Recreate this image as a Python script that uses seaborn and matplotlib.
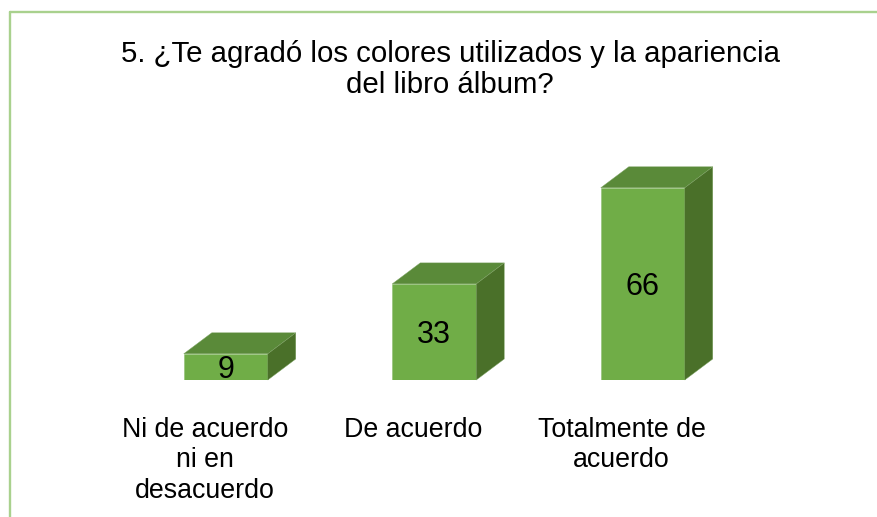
#!/usr/bin/env python3
"""3D-looking bar chart for survey question 5."""
import matplotlib
matplotlib.use("Agg")
import matplotlib.pyplot as plt
from matplotlib.lines import Line2D
from matplotlib.patches import Polygon
import pandas as pd
import seaborn as sns

# -----------------------------
#  Data
# -----------------------------
CATEGORIES = ["Ni de acuerdo\nni en\ndesacuerdo", "De acuerdo", "Totalmente de\nacuerdo"]
VALUES = [9, 33, 66]
TITLE = "5. ¿Te agradó los colores utilizados y la apariencia\ndel libro álbum?"

FRONT = "#70AD47"
TOP = "#5A8A39"
SIDE = "#4A7029"
FRAME = "#A9D18E"

sns.set_theme(style="white")
plt.rcParams["font.family"] = ["Liberation Sans", "DejaVu Sans"]

fig = plt.figure(figsize=(8.77, 5.17), dpi=100)
# axes box in pixels: x 122-747, baseline at y=380
ax = fig.add_axes([121.5 / 877, (517 - 380) / 517, 625.5 / 877, 233 / 517])

df = pd.DataFrame({"cat": CATEGORIES, "val": VALUES})
sns.barplot(data=df, x="cat", y="val", color=FRONT, saturation=1, width=0.403, ax=ax)
ax.set_xlim(-0.5, 2.5)
ax.set_ylim(0, 80)
ax.axis("off")

# depth offsets, converted from pixels to data units
dx = 28 / (625.5 / 3)
dy = 21 / (233 / 80)

for patch, val in zip(ax.patches, VALUES):
    x0 = patch.get_x()
    x1 = x0 + patch.get_width()
    patch.set_edgecolor("#8FBF72")
    patch.set_linewidth(0.4)
    ax.add_patch(Polygon([(x0, val), (x1, val), (x1 + dx, val + dy), (x0 + dx, val + dy)],
                         closed=True, facecolor=TOP, edgecolor="#7FA566", linewidth=0.3, clip_on=False))
    ax.add_patch(Polygon([(x1, 0), (x1 + dx, dy), (x1 + dx, val + dy), (x1, val)],
                         closed=True, facecolor=SIDE, edgecolor="#7FA566", linewidth=0.3, clip_on=False))
    ax.annotate(str(val), xy=((x0 + x1) / 2, val / 2), xytext=(0, -3.5), textcoords="offset pixels",
                ha="center", va="center", fontsize=22, color="black")

# category labels sit below the baseline, shifted left of their bars
for i, label in enumerate(CATEGORIES):
    ax.annotate(label, xy=(i, 0), xytext=(-21, -37),
                xycoords="data", textcoords="offset pixels", ha="center", va="top",
                fontsize=19.3, linespacing=1.22, color="black")

fig.text(450 / 877, 1 - 40 / 517, TITLE, ha="center", va="top", fontsize=21.2, linespacing=1.15, color="black")

# outer frame, only top and left are visible
fig.add_artist(Line2D([10 / 877, 1], [1 - 12 / 517] * 2, color=FRAME, linewidth=1.7))
fig.add_artist(Line2D([10 / 877] * 2, [0, 1 - 12 / 517], color=FRAME, linewidth=1.7))

fig.savefig("out.png", dpi=100)
